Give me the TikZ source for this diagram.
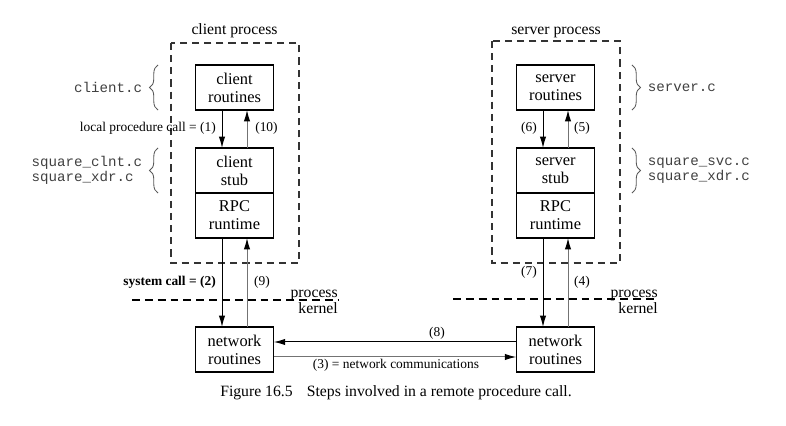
\documentclass[tikz,border=0pt]{standalone}
\usepackage{fontspec}
\setmainfont{Liberation Serif}
\setmonofont{Liberation Mono}
\usetikzlibrary{arrows.meta,decorations.pathreplacing,positioning}

\tikzset{
  box/.style={draw, line width=0.8pt, minimum width=55pt, minimum height=31.5pt,
    inner sep=0pt, outer sep=0pt, align=center, font=\fontsize{11.5}{12.5}\selectfont},
  procbox/.style={draw=black!80, line width=0.75pt, dash pattern=on 5pt off 3.5pt},
  layer/.style={line width=0.8pt, dash pattern=on 5.5pt off 3.5pt},
  title/.style={font=\fontsize{11}{13}\selectfont, inner sep=0pt},
  lbl/.style={font=\fontsize{9.4}{11}\selectfont, inner sep=0pt},
  src/.style={font=\ttfamily\fontsize{9.9}{10.5}\selectfont, text=black!75,
    align=left, inner sep=0pt},
  call/.style={-{Latex[length=8pt,width=4.5pt]}, line width=0.7pt},
  ret/.style={-{Latex[length=8pt,width=4.5pt,color=black]}, draw=black!55, line width=0.7pt},
  brc/.style={decorate, decoration={brace, amplitude=6pt}, draw=black!65, line width=0.6pt}
}

\begin{document}
\begin{tikzpicture}[x=0.7pt, y=-0.7pt]
    \useasboundingbox (0,0) rectangle (786,426);

    % --- 参数 ---
    \def\off{8.75pt}     % 上下箭头相对方框中心的偏移
    \def\brx{26pt}       % 大括号离方框的距离
    \def\srcx{37pt}      % 源文件名离方框的距离

    % --- 客户进程 ---
    \draw[procbox] (171,43) rectangle (299,263);
    \node[title, anchor=base] (ctitle) at (234.5,35) {client process};
    \node[box] (croutines) at (234.5,87.5) {client\\routines};
    \node[box] (cstub) at (234.5,170.5) {client\\stub};
    \node[box, below=0pt of cstub] (cruntime) {RPC\\runtime};
    \node[box] (cnet) at (234.5,349.5) {network\\routines};

    % --- 服务器进程 ---
    \draw[procbox] (492,41) rectangle (620,263);
    \node[title, anchor=base] (stitle) at (556,35) {server process};
    \node[box] (sroutines) at (555.5,87.5) {server\\routines};
    \node[box] (sstub) at (555.5,170.5) {server\\stub};
    \node[box, below=0pt of sstub] (sruntime) {RPC\\runtime};
    \node[box] (snet) at (555.5,349.5) {network\\routines};

    % --- 客户端的箭头 ---
    \draw[call] ([xshift=-\off]croutines.south) -- ([xshift=-\off]cstub.north);
    \draw[ret] ([xshift=\off]cstub.north) -- ([xshift=\off]croutines.south);
    \draw[call] ([xshift=-\off]cruntime.south) -- ([xshift=-\off]cnet.north);
    \draw[ret] ([xshift=\off]cnet.north) -- ([xshift=\off]cruntime.south);

    % --- 服务器端的箭头 ---
    \draw[call] ([xshift=-\off]sroutines.south) -- ([xshift=-\off]sstub.north);
    \draw[ret] ([xshift=\off]sstub.north) -- ([xshift=\off]sroutines.south);
    \draw[call] ([xshift=-\off]sruntime.south) -- ([xshift=-\off]snet.north);
    \draw[ret] ([xshift=\off]snet.north) -- ([xshift=\off]sruntime.south);

    % --- 网络通信 ---
    \draw[call] ([yshift=5.25pt]snet.west) -- ([yshift=5.25pt]cnet.east);
    \draw[ret] ([yshift=-5.25pt]cnet.east) -- ([yshift=-5.25pt]snet.west);

    % --- 步骤编号 ---
    \node[lbl, anchor=east] (l1) at (216,128) {local procedure call = (1)};
    \node[lbl, anchor=west] (l10) at (255,128) {(10)};
    \node[lbl, anchor=east] (l2) at (216,282) {\bfseries system call = (2)};
    \node[lbl] (l9) at (262,282) {(9)};
    \node[lbl] (l6) at (529,128) {(6)};
    \node[lbl] (l5) at (582,128) {(5)};
    \node[lbl] (l7) at (529,272) {(7)};
    \node[lbl] (l4) at (582,282) {(4)};
    \node[lbl] (l8) at (437,333) {(8)};
    \node[lbl] (l3) at (396,365) {(3) = network communications};

    % --- process / kernel 分界线 ---
    \coordinate (cpk) at (338,300);
    \draw[layer] (132,300) -- (cpk);
    \node[title, anchor=base east] (cproc) at (338,297.5) {process};
    \node[title, anchor=base east] (cker) at (338,313.5) {kernel};
    \coordinate (spk) at (657,299);
    \draw[layer] (453,299) -- (spk);
    \node[title, anchor=base east] (sproc) at (658,297.5) {process};
    \node[title, anchor=base east] (sker) at (658,313.5) {kernel};

    % --- 源文件和大括号 ---
    \draw[brc] ([xshift=-\brx]croutines.south west) -- ([xshift=-\brx]croutines.north west);
    \draw[brc] ([xshift=-\brx]cstub.south west) -- ([xshift=-\brx]cstub.north west);
    \draw[brc] ([xshift=\brx]sroutines.north east) -- ([xshift=\brx]sroutines.south east);
    \draw[brc] ([xshift=\brx]sstub.north east) -- ([xshift=\brx]sstub.south east);
    \node[src, anchor=east] (cfile) at ([xshift=-\srcx]croutines.west) {client.c};
    \node[src, anchor=east] (cstubfile) at ([xshift=-\srcx]cstub.west) {square\_clnt.c\\square\_xdr.c};
    \node[src, anchor=west] (sfile) at ([xshift=\srcx]sroutines.east) {server.c};
    \node[src, anchor=west] (sstubfile) at ([xshift=\srcx]sstub.east) {square\_svc.c\\square\_xdr.c};

    % --- 图题 ---
    \node[font=\fontsize{11}{13}\selectfont] (caption) at (396,393)
        {Figure 16.5\hspace{0.9em}Steps involved in a remote procedure call.};

\end{tikzpicture}
\end{document}
